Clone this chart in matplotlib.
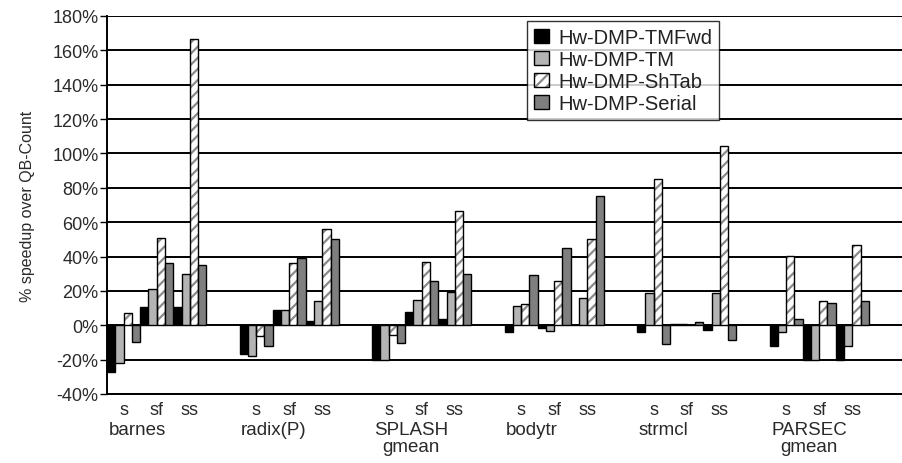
import matplotlib
matplotlib.use("Agg")
import matplotlib.pyplot as plt
import numpy as np

plt.rcParams['font.family'] = ['Liberation Sans', 'DejaVu Sans']

groups = ["barnes", "radix(P)", "SPLASH\ngmean", "bodytr", "strmcl", "PARSEC\ngmean"]
subgroups = ["s", "sf", "ss"]
series = ["Hw-DMP-TMFwd", "Hw-DMP-TM", "Hw-DMP-ShTab", "Hw-DMP-Serial"]

# values per group: [s, sf, ss]
tmfwd = [[-27, 10.5, 10.5], [-17, 9, 2.5], [-20, 8, 3.5],
         [-4, -1.5, 0], [-4, 1, -2.5], [-12, -20, -20]]
tm = [[-22, 21, 30], [-18, 9, 14], [-20, 15, 19.5],
      [11.5, -3.5, 16], [19, 1, 19], [-4, -20, -12]]
shtab = [[7, 51, 166.5], [-6.5, 36, 56], [-5.5, 37, 66.5],
         [12.5, 25.5, 50], [85, 0, 104.5], [40.5, 14, 46.5]]
serial = [[-9.5, 36, 35], [-12, 39, 50], [-10.5, 25.5, 30],
          [29, 45, 75.5], [-11, 2, -8.5], [3.5, 13, 14]]

yticks = [-40, -20, 0, 20, 40, 60, 80, 100, 120, 140, 160, 180]

fig = plt.figure(figsize=(9.02, 4.64), dpi=100)
ax = fig.add_axes([107/902, 69/464, 1 - 107/902, 378/464])

n_groups = len(groups)
n_sub = len(subgroups)
n_ser = len(series)
group_span = (n_sub + 1) * n_ser  # 16 bar units incl. gap

all_data = [tmfwd, tm, shtab, serial]
colors = ['#000000', '#b4b4b4', 'white', '#7f7f7f']

g_idx = np.repeat(np.arange(n_groups), n_sub)
k_idx = np.tile(np.arange(n_sub), n_groups)

plt.rcParams['hatch.linewidth'] = 1.6
handles = []
for j, data in enumerate(all_data):
    vals = np.array(data).ravel()
    xs = g_idx * group_span + k_idx * n_ser + j + 0.5
    if j == 2:
        h1 = ax.bar(xs, vals, width=1.0, color='white', edgecolor='#8a8a8a',
                    linewidth=0, hatch='///', zorder=2)
        h2 = ax.bar(xs, vals, width=1.0, facecolor='none', edgecolor='black',
                    linewidth=1.0, zorder=3)
        handles.append((h1, h2))
    else:
        h = ax.bar(xs, vals, width=1.0, color=colors[j], edgecolor='black',
                   linewidth=1.0, zorder=3)
        handles.append(h)

ax.set_xlim(0, n_groups * group_span)
ax.set_ylim(-40, 180)
ax.set_yticks(yticks)
ax.set_yticklabels([f"{v}%" for v in yticks], fontsize=13, color='#2a2a2a')
ax.yaxis.grid(True, color='black', linewidth=1.4)
ax.set_axisbelow(True)
ax.tick_params(axis='y', direction='out', length=5, width=1, pad=1)
ax.set_xticks([])
for s in ['top', 'right']:
    ax.spines[s].set_visible(False)
ax.spines['left'].set_linewidth(1.4)
ax.spines['bottom'].set_linewidth(1.4)

ax.set_ylabel("% speedup over QB-Count", fontsize=11.5, color='#2a2a2a')
ax.yaxis.set_label_coords(-0.09, 0.5)

trans = ax.get_xaxis_transform()
for g in range(n_groups):
    for k in range(n_sub):
        xc = g * group_span + k * n_ser + n_ser / 2
        ax.text(xc, -0.018, subgroups[k], transform=trans, ha='center', va='top',
                fontsize=13, color='#2a2a2a')
    ax.text(g * group_span + 0.2, -0.072, groups[g], transform=trans, ha='left',
            va='top', fontsize=13.5, color='#2a2a2a', multialignment='center',
            linespacing=0.95)

leg = fig.legend(handles, series, loc='upper left',
                 bbox_to_anchor=(527/902, 1 - 22/464), bbox_transform=fig.transFigure,
                 fontsize=14.5, frameon=True, fancybox=False, edgecolor='black',
                 handlelength=0.75, handleheight=0.75, handletextpad=0.45,
                 labelspacing=0.15, borderpad=0.35, borderaxespad=0)
leg.get_frame().set_linewidth(1.0)
for t in leg.get_texts():
    t.set_color('#222222')

fig.savefig("out.png", dpi=100)
